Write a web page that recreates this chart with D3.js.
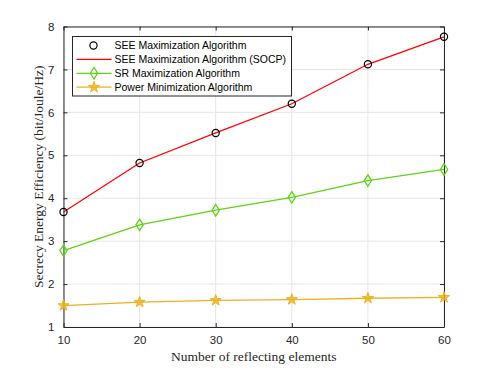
<!DOCTYPE html>
<html>
<head>
<meta charset="utf-8">
<script src="https://cdn.jsdelivr.net/npm/d3@7"></script>
<style>
  body { margin: 0; background: #fff; }
  svg { display: block; }
</style>
</head>
<body>
<div id="chart-area"></div>
<script>
// data
const elements = [10, 20, 30, 40, 50, 60]
const seeMax = [3.68, 4.82, 5.52, 6.20, 7.12, 7.76]
const seeSocp = [3.68, 4.82, 5.52, 6.20, 7.12, 7.76]
const srMax = [2.78, 3.38, 3.72, 4.02, 4.41, 4.67]
const powerMin = [1.50, 1.58, 1.62, 1.64, 1.67, 1.69]
const xTicks = [10, 20, 30, 40, 50, 60]
const yTicks = [1, 2, 3, 4, 5, 6, 7, 8]

const W = 491, H = 368
const MARGIN = { LEFT: 63.5, RIGHT: 47, TOP: 26.5, BOTTOM: 41 }
const WIDTH = W - MARGIN.LEFT - MARGIN.RIGHT
const HEIGHT = H - MARGIN.TOP - MARGIN.BOTTOM

const svg = d3.select("#chart-area").append("svg")
  .attr("width", W)
  .attr("height", H)

const g = svg.append("g")
  .attr("transform", `translate(${MARGIN.LEFT}, ${MARGIN.TOP})`)

const x = d3.scaleLinear().domain([10, 60]).range([0, WIDTH])
const y = d3.scaleLinear().domain([1, 8]).range([HEIGHT, 0])

// grid
g.selectAll(".gx").data(xTicks).enter().append("line")
  .attr("x1", d => x(d)).attr("x2", d => x(d))
  .attr("y1", 0).attr("y2", HEIGHT)
  .attr("stroke", "#e6e6e6").attr("stroke-width", 1)
g.selectAll(".gy").data(yTicks).enter().append("line")
  .attr("y1", d => y(d)).attr("y2", d => y(d))
  .attr("x1", 0).attr("x2", WIDTH)
  .attr("stroke", "#e6e6e6").attr("stroke-width", 1)

// axes
const tickFont = "'Liberation Sans', Arial, sans-serif"
const xAxis = g.append("g")
  .attr("transform", `translate(0, ${HEIGHT})`)
  .call(d3.axisBottom(x).tickValues(xTicks).tickFormat(d3.format("d")).tickSizeInner(-4).tickSizeOuter(0).tickPadding(9))
const xAxisTop = g.append("g")
  .call(d3.axisTop(x).tickValues(xTicks).tickSizeInner(-4).tickSizeOuter(0).tickFormat(""))
const yAxis = g.append("g")
  .call(d3.axisLeft(y).tickValues(yTicks).tickFormat(d3.format("d")).tickSizeInner(-4).tickSizeOuter(0).tickPadding(9))
const yAxisRight = g.append("g")
  .attr("transform", `translate(${WIDTH}, 0)`)
  .call(d3.axisRight(y).tickValues(yTicks).tickSizeInner(-4).tickSizeOuter(0).tickFormat(""))

;[xAxis, xAxisTop, yAxis, yAxisRight].forEach(a => {
  a.selectAll("path, line").attr("stroke", "#262626").attr("stroke-width", 1)
  a.selectAll("text").attr("fill", "#262626").style("font-family", tickFont).style("font-size", "11.5px")
})

// labels
const serif = "'Liberation Serif', 'Times New Roman', serif"
g.append("text")
  .attr("x", WIDTH / 2)
  .attr("y", HEIGHT + 34)
  .attr("text-anchor", "middle")
  .attr("fill", "#262626")
  .style("font-family", serif)
  .style("font-size", "13.5px")
  .text("Number of reflecting elements")

g.append("text")
  .attr("x", -HEIGHT / 2)
  .attr("y", -21)
  .attr("transform", "rotate(-90)")
  .attr("text-anchor", "middle")
  .attr("fill", "#262626")
  .style("font-family", serif)
  .style("font-size", "13.5px")
  .text("Secrecy Energy Efficiency (bit/Joule/Hz)")

const line = d3.line().x((d, i) => x(elements[i])).y(d => y(d))

const RED = "#ff0000", GREEN = "#5fd219", ORANGE = "#edb120"

// power minimization
g.append("path").datum(powerMin).attr("d", line)
  .attr("fill", "none").attr("stroke", ORANGE).attr("stroke-width", 1.3)
const star = d3.symbol().type(d3.symbolStar).size(38)
g.selectAll(".star").data(powerMin).enter().append("path")
  .attr("d", star)
  .attr("transform", (d, i) => `translate(${x(elements[i])}, ${y(d)})`)
  .attr("fill", ORANGE).attr("fill-opacity", 0.8).attr("stroke", ORANGE)

// SR maximization
g.append("path").datum(srMax).attr("d", line)
  .attr("fill", "none").attr("stroke", GREEN).attr("stroke-width", 1.3)
const diamond = d3.symbol().type(d3.symbolDiamond).size(38)
g.selectAll(".dia").data(srMax).enter().append("path")
  .attr("d", diamond)
  .attr("transform", (d, i) => `translate(${x(elements[i])}, ${y(d)}) scale(1.1, 1)`)
  .attr("fill", "none").attr("stroke", GREEN).attr("stroke-width", 1.2)

// SEE SOCP
g.append("path").datum(seeSocp).attr("d", line)
  .attr("fill", "none").attr("stroke", RED).attr("stroke-width", 1.3)

// SEE maximization circles
g.selectAll(".circ").data(seeMax).enter().append("circle")
  .attr("cx", (d, i) => x(elements[i]))
  .attr("cy", d => y(d))
  .attr("r", 3.6)
  .attr("fill", "none").attr("stroke", "#000").attr("stroke-width", 1.2)

// legend
const legendNames = ["SEE Maximization Algorithm", "SEE Maximization Algorithm (SOCP)",
  "SR Maximization Algorithm", "Power Minimization Algorithm"]
const lg = svg.append("g").attr("transform", "translate(72.5, 36.5)")
lg.append("rect").attr("width", 219).attr("height", 59.5)
  .attr("fill", "#fff").attr("stroke", "#262626").attr("stroke-width", 1)
legendNames.forEach((name, i) => {
  const ly = 9 + i * 13.9
  const row = lg.append("g").attr("transform", `translate(0, ${ly})`)
  if (i === 0) {
    row.append("circle").attr("cx", 21).attr("cy", 0).attr("r", 3.6)
      .attr("fill", "none").attr("stroke", "#000").attr("stroke-width", 1.2)
  } else {
    const c = [RED, GREEN, ORANGE][i - 1]
    row.append("line").attr("x1", 4).attr("x2", 39).attr("y1", 0).attr("y2", 0)
      .attr("stroke", c).attr("stroke-width", 1.3)
    if (i === 2) row.append("path").attr("d", diamond).attr("transform", "translate(21.5,0) scale(1.1, 1)")
      .attr("fill", "none").attr("stroke", c).attr("stroke-width", 1.2)
    if (i === 3) row.append("path").attr("d", star).attr("transform", "translate(21.5,0)")
      .attr("fill", c).attr("fill-opacity", 0.8).attr("stroke", c)
  }
  row.append("text").attr("x", 42).attr("y", 0).attr("dy", "0.35em")
    .attr("fill", "#000")
    .style("font-family", tickFont).style("font-size", "10.5px")
    .text(name)
})
</script>
</body>
</html>
